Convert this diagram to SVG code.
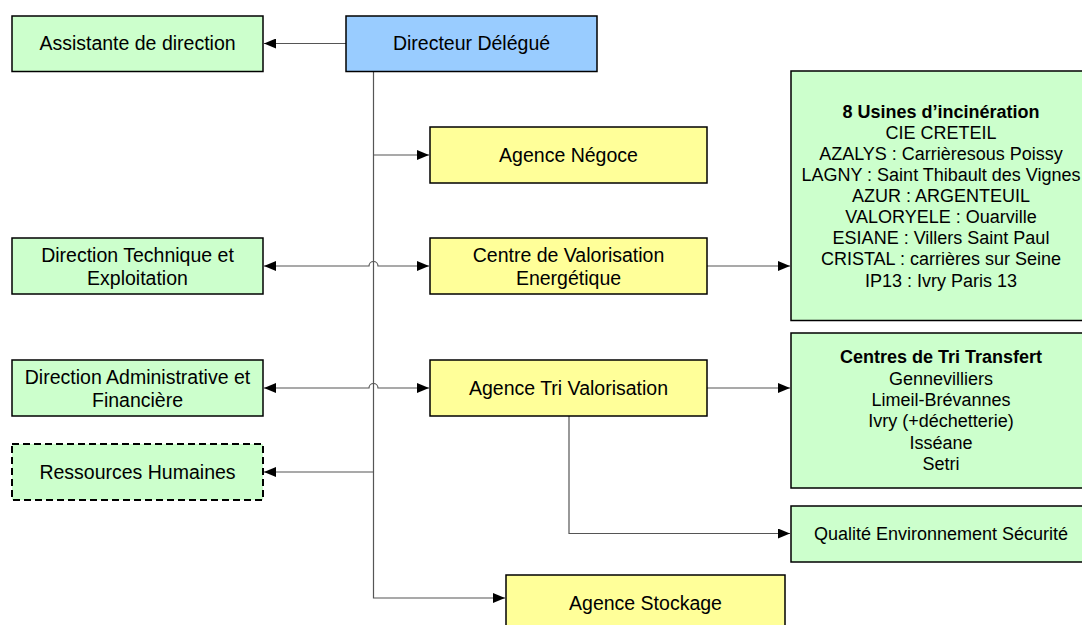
<svg xmlns="http://www.w3.org/2000/svg" width="1082" height="625" viewBox="0 0 1082 625">
<style>
.box{stroke:#000;stroke-width:1.5}
.g{fill:#CCFFCC}.y{fill:#FFFF99}.b{fill:#99CCFF}
.dash{stroke-dasharray:7,4;stroke-width:2}
text{font-family:"Liberation Sans",Arial,sans-serif;font-size:19.5px;fill:#000;text-anchor:middle}
.l{font-size:18px}
.bold{font-weight:bold}
.c{fill:none;stroke:#555;stroke-width:1.2}
</style>
<defs>
<marker id="ah" viewBox="0 0 12 10" refX="12" refY="5" markerWidth="12" markerHeight="10" markerUnits="userSpaceOnUse" orient="auto-start-reverse">
<path d="M0,0 L12,5 L0,10 z" fill="#000"/>
</marker>
</defs>
<g id="connectors">
<path class="c" d="M346,43.5 H264" marker-end="url(#ah)"/>
<path class="c" d="M373.5,71 V598 H505" marker-end="url(#ah)"/>
<path class="c" d="M373.5,155 H429" marker-end="url(#ah)"/>
<path class="c" d="M264,266 H369 A4.5,4.5 0 0 1 378,266 H429" marker-start="url(#ah)" marker-end="url(#ah)"/>
<path class="c" d="M264,388 H369 A4.5,4.5 0 0 1 378,388 H429" marker-start="url(#ah)" marker-end="url(#ah)"/>
<path class="c" d="M373.5,472 H264" marker-end="url(#ah)"/>
<path class="c" d="M707,266 H790" marker-end="url(#ah)"/>
<path class="c" d="M707,388 H790" marker-end="url(#ah)"/>
<path class="c" d="M569,416 V533.5 H790" marker-end="url(#ah)"/>
</g>
<g id="assistante"><rect class="box g" x="12" y="16" width="251" height="55.5"/><text x="137.5" y="50">Assistante de direction</text></g>
<g id="directeur"><rect class="box b" x="346" y="16" width="251" height="55.5"/><text x="471.5" y="50">Directeur Délégué</text></g>
<g id="negoce"><rect class="box y" x="430" y="127" width="277" height="56"/><text x="568.5" y="162">Agence Négoce</text></g>
<g id="cve"><rect class="box y" x="430" y="238" width="277" height="56"/><text x="568.5" y="262">Centre de Valorisation</text><text x="568.5" y="285">Energétique</text></g>
<g id="dte"><rect class="box g" x="12" y="238" width="251" height="56"/><text x="137.5" y="262">Direction Technique et</text><text x="137.5" y="285">Exploitation</text></g>
<g id="daf"><rect class="box g" x="12" y="360" width="251" height="56"/><text x="137.5" y="384">Direction Administrative et</text><text x="137.5" y="407">Financière</text></g>
<g id="atv"><rect class="box y" x="430" y="360" width="277" height="56"/><text x="568.5" y="395">Agence Tri Valorisation</text></g>
<g id="rh"><rect class="box g dash" x="12" y="444" width="251" height="56"/><text x="137.5" y="479">Ressources Humaines</text></g>
<g id="stockage"><rect class="box y" x="506" y="575" width="279" height="60"/><text x="645.5" y="610">Agence Stockage</text></g>
<g id="usines"><rect class="box g" x="791" y="71" width="300" height="249.5"/>
<text class="l bold" x="941" y="118">8 Usines d’incinération</text>
<text class="l" x="941" y="139">CIE CRETEIL</text>
<text class="l" x="941" y="160">AZALYS : Carrièresous Poissy</text>
<text class="l" x="941" y="181">LAGNY : Saint Thibault des Vignes</text>
<text class="l" x="941" y="202">AZUR : ARGENTEUIL</text>
<text class="l" x="941" y="223">VALORYELE : Ouarville</text>
<text class="l" x="941" y="244">ESIANE : Villers Saint Paul</text>
<text class="l" x="941" y="265">CRISTAL : carrières sur Seine</text>
<text class="l" x="941" y="287">IP13 : Ivry Paris 13</text>
</g>
<g id="ctt"><rect class="box g" x="791" y="333" width="300" height="155"/>
<text class="l bold" x="941" y="363">Centres de Tri Transfert</text>
<text class="l" x="941" y="385">Gennevilliers</text>
<text class="l" x="941" y="406">Limeil-Brévannes</text>
<text class="l" x="941" y="427">Ivry (+déchetterie)</text>
<text class="l" x="941" y="449">Isséane</text>
<text class="l" x="941" y="470">Setri</text>
</g>
<g id="qes"><rect class="box g" x="791" y="506" width="300" height="56"/><text class="l" x="941" y="540">Qualité Environnement Sécurité</text></g>
</svg>
